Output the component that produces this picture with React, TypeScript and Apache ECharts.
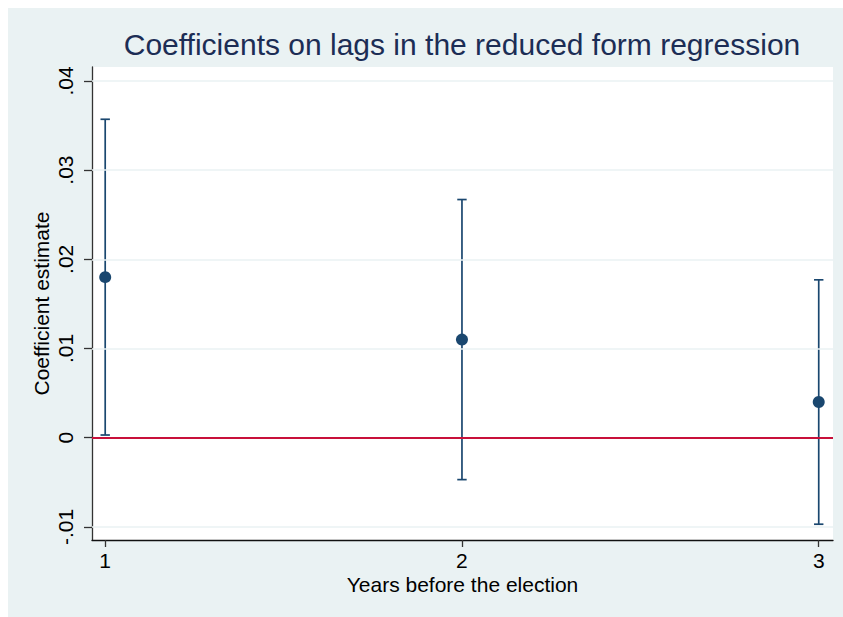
import React, { useEffect, useRef } from "react";
import * as echarts from "echarts";

const years = [1, 2, 3];
const coef = [0.018, 0.011, 0.004];
const upper = [0.0357, 0.0267, 0.0177];
const lower = [0.0003, -0.0047, -0.0097];
const yTicks = [-0.01, 0, 0.01, 0.02, 0.03, 0.04];
const yTickLabels = ["-.01", "0", ".01", ".02", ".03", ".04"];
const xTicks = [1, 2, 3];
const yRange = [-0.01147, 0.04156];
const xRange = [0.963, 3.04];
const refValue = 0;

const FONT = "Liberation Sans";
const NAVY = "#1A476F";

export default function App() {
  const ref = useRef<HTMLDivElement>(null);
  useEffect(() => {
    if (!ref.current) return;
    const chart = echarts.init(ref.current, null, { renderer: "svg" });
    const labelMap: Record<string, string> = {};
    yTicks.forEach((v, i) => (labelMap[String(v)] = yTickLabels[i]));
    chart.setOption({
      animation: false,
      backgroundColor: "#EAF2F3",
      textStyle: { fontFamily: FONT },
      graphic: [
        {
          type: "text",
          x: 454,
          y: 36,
          style: {
            text: "Coefficients on lags in the reduced form regression",
            fontFamily: FONT,
            fontSize: 30,
            fill: "#1C2D55",
            textAlign: "center",
            textVerticalAlign: "middle",
          },
        },
      ],
      grid: {
        left: 84,
        top: 59,
        right: 10,
        bottom: 77,
        show: true,
        backgroundColor: "#FFFFFF",
        borderWidth: 0,
      },
      xAxis: {
        type: "value",
        min: xRange[0],
        max: xRange[1],
        name: "Years before the election",
        nameLocation: "middle",
        nameGap: 34,
        nameMoveOverlap: false,
        nameTextStyle: { fontFamily: FONT, fontSize: 21, color: "#000" },
        axisLine: { show: true, onZero: false, lineStyle: { color: "#111", width: 1.3 } },
        axisTick: { show: true, length: 7, customValues: xTicks, lineStyle: { color: "#333", width: 1.3 } },
        axisLabel: {
          customValues: xTicks,
          fontFamily: FONT,
          fontSize: 21,
          color: "#000",
          margin: 10,
          formatter: (v: number) => String(v),
        },
        splitLine: { show: false },
      },
      yAxis: {
        type: "value",
        min: yRange[0],
        max: yRange[1],
        name: "Coefficient estimate",
        nameLocation: "middle",
        nameRotate: 90,
        nameGap: 40,
        nameMoveOverlap: false,
        nameTextStyle: { fontFamily: FONT, fontSize: 21, color: "#000" },
        axisLine: { show: true, onZero: false, lineStyle: { color: "#333", width: 1.3 } },
        axisTick: { show: true, length: 8, customValues: yTicks, lineStyle: { color: "#333", width: 1.3 } },
        axisLabel: {
          customValues: yTicks,
          rotate: 90,
          fontFamily: FONT,
          fontSize: 21,
          color: "#000",
          margin: 16,
          formatter: (v: number) => {
            const k = yTicks.find((t) => Math.abs(t - v) < 1e-9);
            return k === undefined ? "" : labelMap[String(k)];
          },
        },
        splitLine: { show: false },
      },
      series: [
        {
          type: "line",
          data: [],
          z: 1,
          markLine: {
            silent: true,
            symbol: ["none", "none"],
            label: { show: false },
            lineStyle: { color: "#EAF2F3", width: 1.5, type: "solid", opacity: 1 },
            data: yTicks.map((v) => ({ yAxis: v })),
          },
        },
        {
          type: "line",
          data: [],
          z: 2,
          markLine: {
            silent: true,
            symbol: ["none", "none"],
            label: { show: false },
            lineStyle: { color: "#C8103A", width: 1.8, type: "solid", opacity: 1 },
            data: [{ yAxis: refValue }],
          },
        },
        {
          type: "custom",
          z: 3,
          data: years.map((y, i) => [y, lower[i], upper[i]]),
          encode: { x: 0, y: [1, 2] },
          renderItem: (params: any, api: any) => {
            const x = api.value(0);
            const lo = api.coord([x, api.value(1)]);
            const hi = api.coord([x, api.value(2)]);
            const half = 4.7;
            const style = { stroke: NAVY, lineWidth: 1.7 };
            return {
              type: "group",
              children: [
                { type: "line", shape: { x1: lo[0], y1: lo[1], x2: hi[0], y2: hi[1] }, style },
                { type: "line", shape: { x1: lo[0] - half, y1: lo[1], x2: lo[0] + half, y2: lo[1] }, style },
                { type: "line", shape: { x1: hi[0] - half, y1: hi[1], x2: hi[0] + half, y2: hi[1] }, style },
              ],
            };
          },
        },
        {
          type: "scatter",
          z: 4,
          symbol: "circle",
          symbolSize: 12,
          itemStyle: { color: NAVY, opacity: 1 },
          data: years.map((y, i) => [y, coef[i]]),
        },
      ],
    });
    return () => chart.dispose();
  }, []);
  return (
    <div
      ref={ref}
      style={{ position: "absolute", left: 8, top: 8, width: 835, height: 609 }}
    />
  );
}
